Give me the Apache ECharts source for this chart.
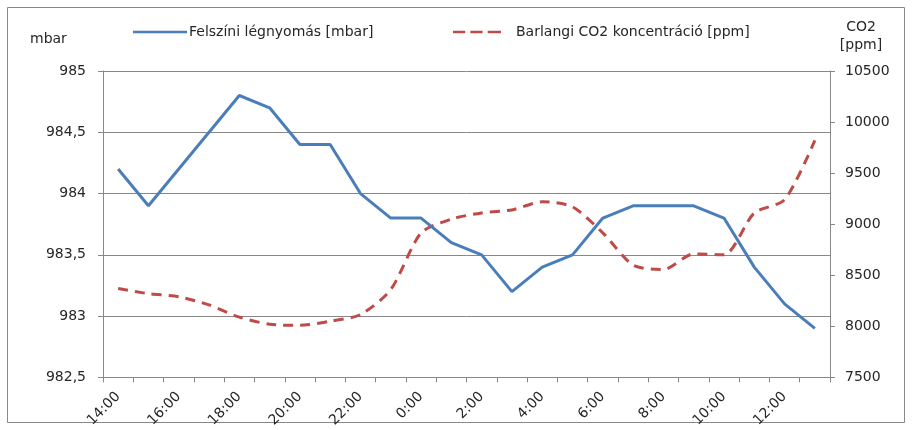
<!DOCTYPE html>
<html>
<head>
<meta charset="utf-8">
<script src="https://cdn.jsdelivr.net/npm/echarts@6/dist/echarts.min.js"></script>
<style>html,body{margin:0;padding:0;background:#fff}#c{width:912px;height:430px}</style>
</head>
<body>
<div id="c"></div>
<script>
const categories = ["14:00","15:00","16:00","17:00","18:00","19:00","20:00","21:00","22:00","23:00","0:00","1:00","2:00","3:00","4:00","5:00","6:00","7:00","8:00","9:00","10:00","11:00","12:00","13:00"];
const pressure = [984.2,983.9,984.2,984.5,984.8,984.7,984.4,984.4,984.0,983.8,983.8,983.6,983.5,983.2,983.4,983.5,983.8,983.9,983.9,983.9,983.8,983.4,983.1,982.9];
const co2 = [8370,8320,8290,8210,8090,8020,8010,8050,8115,8360,8915,9050,9110,9140,9220,9170,8915,8600,8555,8710,8700,9110,9240,9820];
const leftTicks = {min: 982.5, max: 985, interval: 0.5};
const rightTicks = {min: 7500, max: 10500, interval: 500};
const seriesNames = ["Felszíni légnyomás [mbar]", "Barlangi CO2 koncentráció [ppm]"];

const font = "DejaVu Sans";
const txt = "#262626";
const axisGray = "#888888";
const blue = '#4a7ebb', red = '#be4b48';
const chart = echarts.init(document.getElementById('c'), null, {renderer: 'canvas'});
chart.setOption({
  animation: false,
  textStyle: {fontFamily: font},
  grid: {left: 103, right: 82, top: 71, bottom: 52, containLabel: false},
  legend: [
    {
      top: 20, left: 128, itemWidth: 54, itemHeight: 10, itemGap: 4,
      textStyle: {fontFamily: font, fontSize: 14, color: txt, padding: [0, 0, 0, -3]},
      data: [{name: seriesNames[0], icon: 'path://M0,4 L54,4 L54,6.5 L0,6.5 Z'}]
    },
    {
      top: 20, left: 448, itemWidth: 48, itemHeight: 10, itemGap: 4,
      textStyle: {fontFamily: font, fontSize: 14, color: txt, padding: [0, 0, 0, 10]},
      data: [{name: seriesNames[1], icon: 'path://M0,4 L12,4 L12,6.5 L0,6.5 Z M17,4 L29,4 L29,6.5 L17,6.5 Z M34,4 L47,4 L47,6.5 L34,6.5 Z'}]
    }
  ],
  graphic: [
    {type: 'rect', shape: {x: 7.5, y: 7.5, width: 897, height: 415}, style: {fill: 'none', stroke: axisGray, lineWidth: 1}},
    {type: 'text', x: 30, y: 32, style: {text: 'mbar', font: '14px ' + font, fill: txt}},
    {type: 'text', x: 861, y: 18, style: {text: 'CO2\n[ppm]', font: '14px ' + font, fill: txt, align: 'center', lineHeight: 18}}
  ],
  xAxis: {
    type: 'category', data: categories, boundaryGap: true,
    axisLine: {lineStyle: {color: axisGray}},
    axisTick: {show: true, interval: 0, length: 5, lineStyle: {color: axisGray}},
    axisLabel: {interval: 1, rotate: 45, fontSize: 14, color: txt, fontFamily: font, margin: 17}
  },
  yAxis: [
    {
      type: 'value', min: leftTicks.min, max: leftTicks.max, interval: leftTicks.interval,
      axisLine: {show: true, lineStyle: {color: axisGray}},
      axisTick: {show: true, length: 5, lineStyle: {color: axisGray}},
      splitLine: {lineStyle: {color: axisGray, width: 1}},
      axisLabel: {fontSize: 14, color: txt, fontFamily: font, margin: 17,
        formatter: v => String(Math.round(v*10)/10).replace('.', ',')}
    },
    {
      type: 'value', min: rightTicks.min, max: rightTicks.max, interval: rightTicks.interval,
      position: 'right',
      axisLine: {show: true, lineStyle: {color: axisGray}},
      axisTick: {show: true, length: 5, lineStyle: {color: axisGray}},
      splitLine: {show: false},
      axisLabel: {fontSize: 14, color: txt, fontFamily: font, margin: 15, formatter: v => String(v)}
    }
  ],
  series: [
    {name: seriesNames[0], type: 'line', data: pressure, yAxisIndex: 0, symbol: 'none',
     lineStyle: {color: blue, width: 3}, itemStyle: {color: blue}, z: 3},
    {name: seriesNames[1], type: 'line', data: co2, yAxisIndex: 1, symbol: 'none', smooth: 0.25,
     lineStyle: {color: red, width: 3, type: [10, 7]}, itemStyle: {color: red}, z: 2}
  ]
});
</script>
</body>
</html>
